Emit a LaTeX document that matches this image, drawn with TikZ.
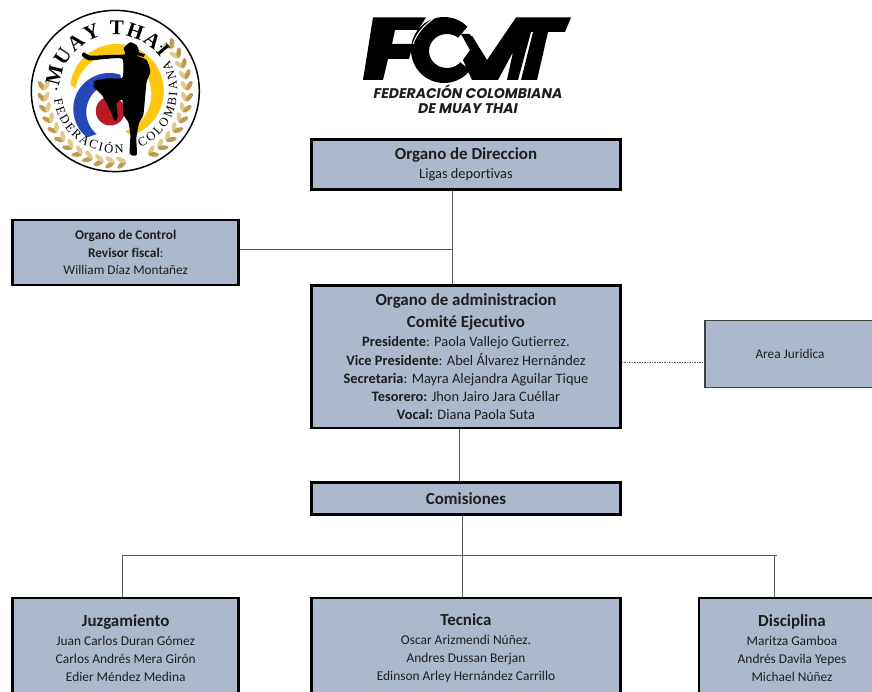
\documentclass[tikz,border=0pt]{standalone}
\usepackage{fontspec}
\setmainfont{Carlito}[Ligatures=CommonOff]
\newfontfamily\popfont{Poppins}
\newfontfamily\serifbd{Liberation Serif}
\usetikzlibrary{decorations.text}
\definecolor{boxfill}{HTML}{ACB8CB}
\definecolor{ink}{HTML}{1E1E1E}
\definecolor{linegray}{HTML}{5A5A5A}
\definecolor{goldA}{HTML}{C09A50}
\definecolor{goldB}{HTML}{E0C98C}
\definecolor{flagY}{HTML}{FDC80F}
\definecolor{flagB}{HTML}{2548B8}
\definecolor{flagR}{HTML}{B81C22}
\newcommand{\bigtext}{\fontsize{16.9}{18.2}\selectfont\bfseries}
\newcommand{\ringbig}{\serifbd\bfseries\fontsize{21}{21}\selectfont}
\newcommand{\ringsmall}{\serifbd\fontsize{12.6}{12.6}\selectfont}
\tikzset{
  box/.style={draw=black,line width=2.6pt,fill=boxfill,text=ink,align=center,inner sep=0pt,
    font=\fontsize{14.4}{18.2}\selectfont},
  lowbox/.style={box,minimum height=100pt,font=\fontsize{13.4}{18.2}\selectfont},
  softbox/.style={box,draw=black!75,line width=1.3pt},
  link/.style={draw=linegray,line width=1pt},
  dashlink/.style={link,dash pattern=on 1.5pt off 1pt},
  leafa/.style={fill=goldA},
  leafb/.style={fill=goldB}
}
\begin{document}
\begin{tikzpicture}[x=1pt,y=-1pt]
\useasboundingbox (0,0) rectangle (872,692);
\clip (0,0) rectangle (872,692);
\fill[white] (0,0) rectangle (872,692);

% ---- round logo
\begin{scope}[shift={(115.3,91)},y=1pt]
  \draw[black,line width=1.5pt] (0,0) ellipse [x radius=84,y radius=80.6];
  \foreach \a in {278,269,...,176}{
    \fill[leafa,shift={(\a:71.5)},rotate=\a-90+32] (4.8,0) ellipse [x radius=5.4,y radius=2.4];
    \fill[leafb,shift={(\a:71.5)},rotate=\a-90-32] (4.8,0) ellipse [x radius=5.4,y radius=2.4];
  }
  \foreach \a in {-62,-53,...,40}{
    \fill[leafb,shift={(\a:71.5)},rotate=\a+90+32] (4.8,0) ellipse [x radius=5.4,y radius=2.4];
    \fill[leafa,shift={(\a:71.5)},rotate=\a+90-32] (4.8,0) ellipse [x radius=5.4,y radius=2.4];
  }
  % yellow crescent
  \fill[flagY] plot[domain=-72:172,samples=60] ({1.5+47*cos(\x)},{47*sin(\x)})
     -- plot[domain=172:-72,samples=60] ({-2+38*cos(\x)},{-3+39*sin(\x)}) -- cycle;
  % red disc
  \fill[flagR] (-5,-20) circle (14.5);
  % blue crescent
  \fill[flagB] plot[domain=72:232,samples=50] ({-6+36*cos(\x)},{-18+36*sin(\x)})
     -- plot[domain=232:72,samples=50] ({-2+27*cos(\x)},{-21+28*sin(\x)}) -- cycle;
  % text rings
  \path[decorate,decoration={text along path,text align={fit to path},
     text={|\ringbig|MUAY THAI}}]
     (176:56) arc [start angle=176,end angle=36,radius=56];
  \path[decorate,decoration={text along path,text align={fit to path},
     text={|\ringsmall|FEDERACIÓN}}]
     (188:62) arc [start angle=188,end angle=278,radius=62];
  \path[decorate,decoration={text along path,text align={fit to path},
     text={|\ringsmall|COLOMBIANA}}]
     (-66:62) arc [start angle=-66,end angle=30,radius=62];
  \fill[black] (178:59) circle (1.2);
  \fill[black] (44:64) circle (1.2);
\end{scope}
% fighter silhouette (from a 3x grid)
\begin{scope}[shift={(65,35)},x=0.3333pt,y=-0.3333pt]
  \fill[black] plot[smooth cycle,tension=0.35] coordinates {
    (195,22) (214,30) (222,48) (216,62) (245,75) (256,110) (245,140) (240,190) (235,240)
    (222,265) (214,310) (216,358) (205,362) (194,355) (196,300) (190,262) (176,240)
    (172,195) (155,205) (158,245) (150,258) (135,225) (112,182) (86,155) (90,137) (130,130)
    (172,128) (172,72) (120,72) (72,76) (50,62) (56,52) (76,62) (130,60) (180,58) (176,40)};
  \fill[black] (216,50) -- (240,58) -- (236,66) -- (214,60) -- cycle;
\end{scope}

% ---- FCMT logo
\begin{scope}
  \fill[black] (373,17.5) -- (426,17.5) -- (418,30) -- (395,30) -- (392,44) -- (413,44) -- (409,59) -- (388,59) -- (383,80) -- (363,80) -- cycle;
  \fill[black,even odd rule] (444,50) ellipse [x radius=33,y radius=33] (447,51) ellipse [x radius=18,y radius=17];
  \fill[white] (447,51) -- (470,24) -- (490,24) -- (490,70) -- (465,66) -- cycle;
  \draw[white,line width=1pt] (413,44) .. controls (418,30) and (428,22) .. (440,14);
  \fill[black] (471,34) -- (487,60) -- (516,17.5) -- (571,17.5) -- (565,32) -- (531,32) -- (518,80) -- (507,80)
     -- (513,52) -- (498,80) -- (472,80) -- (463,60) -- (470,50) -- (461,34) -- cycle;
  \fill[black] (533,32) -- (548,32) -- (537,80) -- (521,80) -- cycle;
  \draw[white,line width=1pt] (467,30) -- (472,36);
\end{scope}
\node[font={\popfont\bfseries\itshape\fontsize{14}{14.4}\selectfont},align=center,text=ink,inner sep=0pt] (fcmt) at (468,99)
  {FEDERACIÓN COLOMBIANA\\DE MUAY THAI};

% ---- boxes
\node[box,minimum width=309pt,minimum height=50pt] (dir) at (466,164.5)
  {{\bigtext Organo de Direccion}\\[1pt]Ligas deportivas};
\node[box,minimum width=226pt,minimum height=65pt,font=\fontsize{13.3}{17.6}\selectfont] (ctl) at (125.7,252.5)
  {\textbf{Organo de Control}\\\textbf{Revisor fiscal}:\\William Díaz Montañez};
\node[box,minimum width=309pt,minimum height=142pt] (adm) at (466,356.8)
  {{\bigtext Organo de administracion}\\[3.5pt]
   {\bigtext Comité Ejecutivo}\\[1.5pt]
   \textbf{Presidente}: Paola Vallejo Gutierrez.\\
   \textbf{Vice Presidente}: Abel Álvarez Hernández\\
   \textbf{Secretaria}: Mayra Alejandra Aguilar Tique\\
   \textbf{Tesorero:} Jhon Jairo Jara Cuéllar\\
   \textbf{Vocal:} Diana Paola Suta};
\node[softbox,minimum width=170pt,minimum height=67pt,font=\fontsize{13.3}{14}\selectfont] (area) at (790,354) {Area Juridica};
\node[box,minimum width=309pt,minimum height=32.5pt] (com) at (466,498.5) {\bigtext Comisiones};
\node[lowbox,minimum width=226pt] (juz) at (125.7,648)
  {{\bigtext Juzgamiento}\\[0.5pt]Juan Carlos Duran Gómez\\Carlos Andrés Mera Girón\\Edier Méndez Medina};
\node[lowbox,minimum width=309pt] (tec) at (466,648)
  {{\bigtext Tecnica}\\[0.5pt]Oscar Arizmendi Núñez.\\Andres Dussan Berjan\\Edinson Arley Hernández Carrillo};
\node[lowbox,minimum width=186pt] (dis) at (792,648)
  {{\bigtext Disciplina}\\[0.5pt]Maritza Gamboa\\Andrés Davila Yepes\\Michael Núñez};

% ---- connectors
\coordinate (ctljoin) at ([xshift=-14pt]dir.south |- 0,249.5);
\coordinate (busleft) at (122,555.5);
\coordinate (busright) at (777,555.5);
\draw[link] ([xshift=-14pt]dir.south) -- ([xshift=-14pt]adm.north);
\draw[link] (ctl.east |- ctljoin) -- (ctljoin);
\draw[link] ([xshift=-7pt]adm.south) -- ([xshift=-7pt]com.north);
\draw[dashlink] ([yshift=-6pt]adm.east) -- ([yshift=-6pt]area.west |- adm.east);
\draw[link] ([xshift=-4pt]com.south) -- ([xshift=-4pt]tec.north);
\draw[link] (busleft) -- (busright);
\draw[link] (busleft) -- (busleft |- juz.north);
\draw[link] (774.5,555.5) -- (774.5,0 |- dis.north);
\end{tikzpicture}
\end{document}
